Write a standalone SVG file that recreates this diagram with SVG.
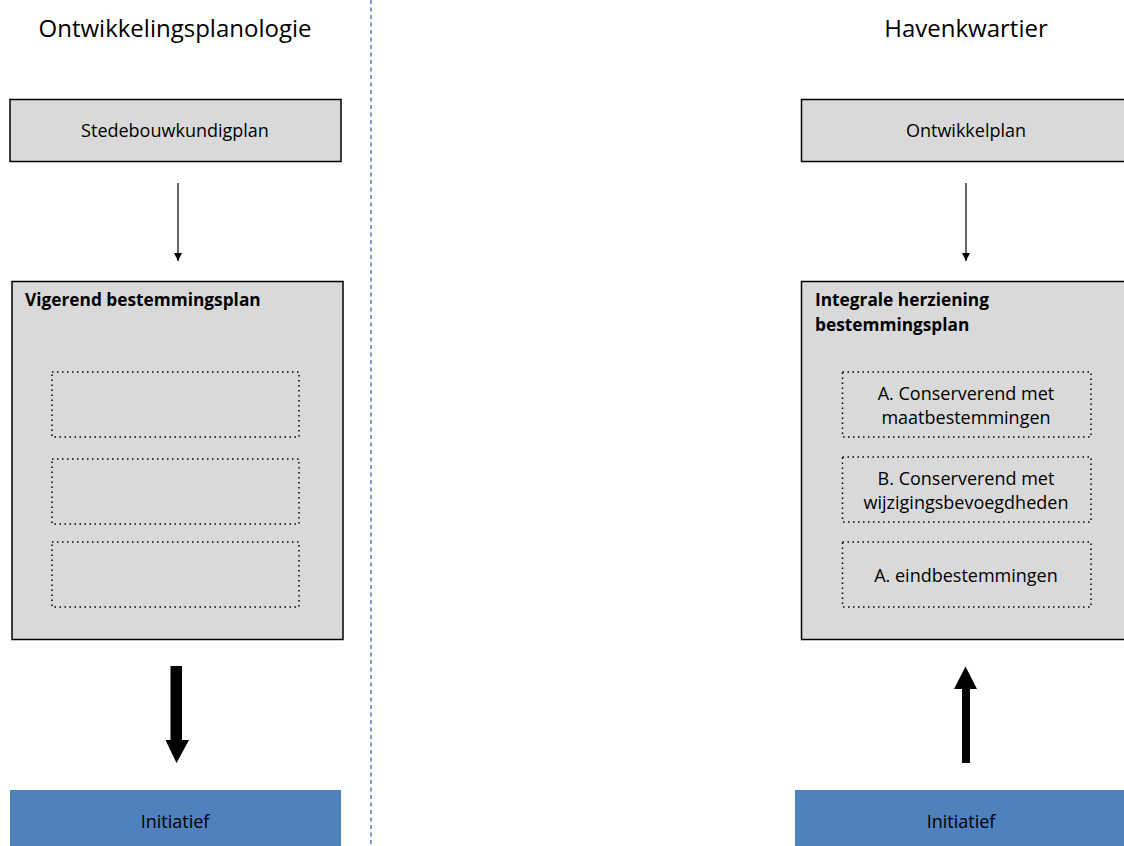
<svg xmlns="http://www.w3.org/2000/svg" width="1124" height="846" viewBox="0 0 1124 846">
  <style>
    text { font-family: "Open Sans", "Liberation Sans", sans-serif; fill: #000; }
    .title { font-size: 24px; text-anchor: middle; }
    .lbl { font-size: 18px; text-anchor: middle; }
    .head { font-size: 17.3px; font-weight: bold; }
    .box { fill: #d9d9d9; stroke: #000; stroke-width: 1.5; }
    .sub { fill: none; stroke: #000; stroke-width: 1.5; stroke-dasharray: 1.5 3.5; }
    .init { fill: #4f81bd; }
    .thin { stroke: #000; stroke-width: 1.2; fill: none; }
  </style>
  <defs>
    <marker id="tip" viewBox="0 0 10 10" refX="10" refY="5" markerWidth="8" markerHeight="8" markerUnits="userSpaceOnUse" orient="auto">
      <path d="M0,0 L10,5 L0,10 z" fill="#000"/>
    </marker>
  </defs>

  <rect width="1124" height="846" fill="#fff"/>

  <!-- column divider -->
  <line x1="371" y1="0" x2="371" y2="846" stroke="#4a7ebb" stroke-width="1.5" stroke-dasharray="4 3.5"/>

  <!-- column titles -->
  <text class="title" x="175" y="37">Ontwikkelingsplanologie</text>
  <text class="title" x="966" y="37">Havenkwartier</text>

  <!-- left column -->
  <g id="stedebouwkundigplan">
    <rect class="box" x="10" y="99.5" width="331" height="62"/>
    <text class="lbl" x="175" y="137">Stedebouwkundigplan</text>
  </g>
  <g id="vigerend-bestemmingsplan">
    <rect class="box" x="12" y="281.5" width="331" height="358"/>
    <text class="head" x="25" y="306">Vigerend bestemmingsplan</text>
    <rect class="sub" x="52" y="372" width="247" height="65"/>
    <rect class="sub" x="52" y="459" width="247" height="65"/>
    <rect class="sub" x="52" y="542" width="247" height="65"/>
  </g>
  <g id="initiatief-links">
    <rect class="init" x="10" y="790" width="331" height="56"/>
    <text class="lbl" x="175" y="828">Initiatief</text>
  </g>

  <!-- right column -->
  <g id="ontwikkelplan">
    <rect class="box" x="801.5" y="99.5" width="330" height="62"/>
    <text class="lbl" x="966" y="137">Ontwikkelplan</text>
  </g>
  <g id="integrale-herziening">
    <rect class="box" x="801.5" y="281.5" width="330" height="358"/>
    <text class="head" x="815" y="306">Integrale herziening</text>
    <text class="head" x="815" y="331">bestemmingsplan</text>
    <rect class="sub" x="842.5" y="372" width="248.5" height="65"/>
    <text class="lbl" x="966" y="400">A. Conserverend met</text>
    <text class="lbl" x="966" y="424">maatbestemmingen</text>
    <rect class="sub" x="842.5" y="457" width="248.5" height="65"/>
    <text class="lbl" x="966" y="485">B. Conserverend met</text>
    <text class="lbl" x="966" y="509">wijzigingsbevoegdheden</text>
    <rect class="sub" x="842.5" y="542" width="248.5" height="65"/>
    <text class="lbl" x="966" y="582">A. eindbestemmingen</text>
  </g>
  <g id="initiatief-rechts">
    <rect class="init" x="795" y="790" width="340" height="56"/>
    <text class="lbl" x="961" y="828">Initiatief</text>
  </g>

  <!-- connectors -->
  <g id="connectors">
    <line class="thin" x1="178" y1="183" x2="178" y2="261" marker-end="url(#tip)"/>
    <line class="thin" x1="966" y1="183" x2="966" y2="261" marker-end="url(#tip)"/>
    <path d="M170.5,666 H182 V740 H189 L176.5,763 L165.5,740 H170.5 Z" fill="#000"/>
    <path d="M962,763 H970 V689 H977 L965.5,666.5 L954,689 H962 Z" fill="#000"/>
  </g>
</svg>
